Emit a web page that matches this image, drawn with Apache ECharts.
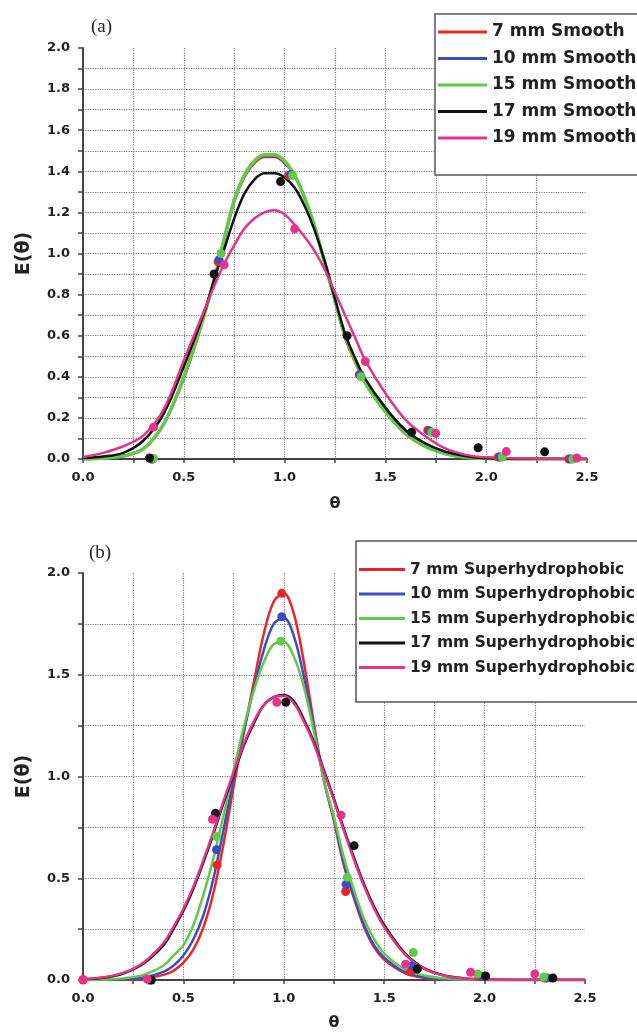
<!DOCTYPE html>
<html>
<head>
<meta charset="utf-8">
<title>E(θ) smooth / superhydrophobic</title>
<script src="https://cdn.jsdelivr.net/npm/echarts@6.0.0/dist/echarts.min.js"></script>
<style>
  html, body { margin: 0; padding: 0; background: #fff; }
  #chart { width: 637px; height: 1032px; }
</style>
</head>
<body>
<div id="chart"></div>
<script>
const thetaA = [0, 0.1, 0.2, 0.3, 0.4, 0.5, 0.6, 0.65, 0.7, 0.75, 0.8, 0.85, 0.9, 0.95, 1.0, 1.05, 1.1, 1.15, 1.2, 1.25, 1.3, 1.35, 1.4, 1.5, 1.6, 1.7, 1.8, 1.9, 2.0, 2.2, 2.5];
const smooth7 = [0, 0.003, 0.014, 0.05, 0.17, 0.39, 0.69, 0.87, 1.06, 1.25, 1.37, 1.44, 1.47, 1.47, 1.44, 1.38, 1.27, 1.12, 0.95, 0.77, 0.59, 0.47, 0.37, 0.23, 0.12, 0.06, 0.024, 0.008, 0.002, 0, 0];
const smooth10 = [0, 0.004, 0.015, 0.05, 0.17, 0.4, 0.7, 0.87, 1.07, 1.26, 1.38, 1.45, 1.475, 1.475, 1.445, 1.38, 1.27, 1.13, 0.95, 0.77, 0.6, 0.48, 0.37, 0.23, 0.125, 0.06, 0.025, 0.008, 0.002, 0, 0];
const smooth15 = [0, 0.004, 0.015, 0.05, 0.17, 0.4, 0.7, 0.87, 1.07, 1.26, 1.38, 1.45, 1.48, 1.48, 1.45, 1.38, 1.27, 1.13, 0.95, 0.77, 0.6, 0.48, 0.37, 0.23, 0.125, 0.06, 0.025, 0.008, 0.002, 0, 0];
const smooth17 = [0.005, 0.012, 0.03, 0.09, 0.22, 0.45, 0.71, 0.87, 1.02, 1.17, 1.29, 1.36, 1.39, 1.39, 1.37, 1.32, 1.23, 1.11, 0.96, 0.78, 0.61, 0.49, 0.39, 0.25, 0.14, 0.075, 0.035, 0.013, 0.004, 0, 0];
const smooth19 = [0.01, 0.03, 0.062, 0.115, 0.24, 0.48, 0.72, 0.84, 0.95, 1.04, 1.12, 1.17, 1.2, 1.21, 1.19, 1.14, 1.08, 1.01, 0.92, 0.81, 0.7, 0.59, 0.48, 0.32, 0.19, 0.11, 0.05, 0.02, 0.008, 0.002, 0];

// (a) measured points [theta, E]
const dotsA7 = [[0.34, 0], [0.67, 0.96], [1.02, 1.38], [1.37, 0.41], [1.71, 0.14], [2.06, 0.01], [2.41, 0]];
const dotsA10 = [[0.345, 0], [0.675, 0.97], [1.03, 1.385], [1.375, 0.41], [1.72, 0.135], [2.07, 0.01], [2.42, 0]];
const dotsA15 = [[0.35, 0.003], [0.685, 1.0], [1.04, 1.38], [1.38, 0.4], [1.73, 0.13], [2.08, 0.01], [2.43, 0]];
const dotsA17 = [[0.33, 0.005], [0.65, 0.9], [0.98, 1.35], [1.31, 0.6], [1.63, 0.13], [1.96, 0.055], [2.29, 0.035]];
const dotsA19 = [[0.35, 0.155], [0.7, 0.945], [1.05, 1.12], [1.4, 0.475], [1.75, 0.125], [2.1, 0.036], [2.45, 0.005]];

// (b) superhydrophobic pipes
const thetaB = [0, 0.1, 0.2, 0.3, 0.4, 0.45, 0.5, 0.55, 0.6, 0.65, 0.7, 0.75, 0.8, 0.85, 0.9, 0.95, 1.0, 1.05, 1.1, 1.15, 1.2, 1.25, 1.3, 1.35, 1.4, 1.45, 1.5, 1.6, 1.7, 1.8, 1.9, 2.0, 2.2, 2.5];
const shp7 = [0, 0, 0.001, 0.006, 0.025, 0.045, 0.085, 0.15, 0.26, 0.43, 0.67, 0.95, 1.21, 1.46, 1.7, 1.86, 1.9, 1.8, 1.56, 1.26, 0.98, 0.78, 0.56, 0.4, 0.26, 0.16, 0.1, 0.035, 0.01, 0.003, 0.001, 0, 0, 0];
const shp10 = [0, 0.001, 0.003, 0.012, 0.04, 0.07, 0.12, 0.2, 0.32, 0.5, 0.74, 0.99, 1.22, 1.43, 1.62, 1.75, 1.78, 1.69, 1.49, 1.24, 0.98, 0.79, 0.57, 0.41, 0.27, 0.17, 0.11, 0.04, 0.013, 0.004, 0.001, 0, 0, 0];
const shp15 = [0, 0.002, 0.008, 0.025, 0.07, 0.12, 0.17, 0.27, 0.42, 0.6, 0.81, 1.03, 1.24, 1.42, 1.56, 1.65, 1.66, 1.59, 1.44, 1.22, 0.98, 0.8, 0.6, 0.44, 0.3, 0.2, 0.13, 0.055, 0.022, 0.008, 0.002, 0, 0, 0];
const shp17 = [0.003, 0.011, 0.032, 0.08, 0.17, 0.25, 0.34, 0.45, 0.58, 0.72, 0.87, 1.01, 1.15, 1.26, 1.35, 1.39, 1.4, 1.37, 1.28, 1.17, 1.03, 0.89, 0.74, 0.6, 0.47, 0.36, 0.27, 0.135, 0.057, 0.022, 0.008, 0.002, 0, 0];
const shp19 = [0.004, 0.013, 0.035, 0.085, 0.18, 0.26, 0.35, 0.46, 0.59, 0.73, 0.88, 1.02, 1.16, 1.27, 1.35, 1.39, 1.395, 1.36, 1.27, 1.16, 1.02, 0.88, 0.73, 0.59, 0.46, 0.35, 0.26, 0.13, 0.055, 0.021, 0.007, 0.002, 0, 0];

const dotsB7 = [[0, 0], [0.34, 0], [0.668, 0.565], [0.99, 1.9], [1.308, 0.435], [1.63, 0.04], [1.97, 0.02], [2.3, 0.01]];
const dotsB10 = [[0.33, 0], [0.665, 0.64], [0.99, 1.785], [1.31, 0.47], [1.64, 0.07], [1.98, 0.02], [2.31, 0.01]];
const dotsB15 = [[0.33, 0], [0.665, 0.705], [0.985, 1.665], [1.316, 0.505], [1.645, 0.135], [1.965, 0.03], [2.295, 0.015]];
const dotsB17 = [[0.34, 0], [0.66, 0.82], [1.01, 1.365], [1.35, 0.66], [1.665, 0.054], [2.005, 0.02], [2.34, 0.01]];
const dotsB19 = [[0, 0.003], [0.32, 0.005], [0.645, 0.79], [0.965, 1.365], [1.285, 0.81], [1.607, 0.078], [1.93, 0.038], [2.25, 0.03]];

const namesA = ['7 mm Smooth', '10 mm Smooth', '15 mm Smooth', '17 mm Smooth', '19 mm Smooth'];
const namesB = ['7 mm Superhydrophobic', '10 mm Superhydrophobic', '15 mm Superhydrophobic', '17 mm Superhydrophobic', '19 mm Superhydrophobic'];
const colors = ['#e8262a', '#3d4dbd', '#62c94a', '#111111', '#e4338a'];

const FONT = "'DejaVu Sans', 'Liberation Sans', sans-serif";

function lineSeries(name, xs, ys, color, width, idx) {
  return {
    type: 'line', name: name, xAxisIndex: idx, yAxisIndex: idx,
    data: xs.map((x, i) => [x, ys[i]]),
    smooth: 0.35, showSymbol: false, symbol: 'none', silent: true,
    lineStyle: { color: color, width: width },
    itemStyle: { color: color },
    z: 2
  };
}

function dotSeries(name, pts, color, idx) {
  return {
    type: 'scatter', name: name, xAxisIndex: idx, yAxisIndex: idx,
    data: pts, symbolSize: 9, silent: true,
    itemStyle: { color: color, opacity: 1 },
    z: 3
  };
}

function isStep(v, step) {
  const k = v / step;
  return Math.abs(k - Math.round(k)) < 1e-6;
}

const gridLine = { color: '#7c7c7c', type: 'dotted', width: 1.2 };

function xAxisFor(idx, gap) {
  return {
    type: 'value', gridIndex: idx, min: 0, max: 2.5, interval: 0.25,
    name: 'θ', nameLocation: 'middle', nameGap: gap,
    nameTextStyle: { fontFamily: FONT, fontWeight: 'bold', fontSize: 16, color: '#222' },
    axisLine: { show: true, onZero: false, lineStyle: { color: '#444', width: 2 } },
    axisTick: { show: true, length: 4, lineStyle: { color: '#444', width: 1.5 } },
    axisLabel: {
      margin: 12, fontFamily: FONT, fontWeight: 'bold', fontSize: 13, color: '#222',
      formatter: v => isStep(v, 0.5) ? v.toFixed(1) : ''
    },
    splitLine: { show: true, showMinLine: false, showMaxLine: false, lineStyle: gridLine }
  };
}

function yAxisFor(idx, step, labelStep) {
  return {
    type: 'value', gridIndex: idx, min: 0, max: 2, interval: step,
    name: 'E(θ)', nameLocation: 'middle', nameGap: 49,
    nameTextStyle: { fontFamily: FONT, fontWeight: 'bold', fontSize: 19, color: '#222' },
    axisLine: { show: true, onZero: false, lineStyle: { color: '#444', width: 2 } },
    axisTick: { show: true, length: 5, lineStyle: { color: '#444', width: 1.5 } },
    axisLabel: {
      margin: 13, fontFamily: FONT, fontWeight: 'bold', fontSize: 13, color: '#222',
      formatter: v => isStep(v, labelStep) ? v.toFixed(1) : ''
    },
    splitLine: { show: true, showMinLine: false, showMaxLine: false, lineStyle: gridLine }
  };
}

function legendFor(names, left, top, iconW, fontSize, lh, gap, pad) {
  return {
    orient: 'vertical', left: left, top: top,
    data: names.map(n => ({ name: n, icon: 'rect' })),
    itemWidth: iconW, itemHeight: 3, itemGap: gap,
    padding: pad, selectedMode: false,
    backgroundColor: '#fff', borderColor: '#555', borderWidth: 1.5, borderRadius: 0,
    textStyle: { fontFamily: FONT, fontWeight: 'bold', fontSize: fontSize, lineHeight: lh, color: '#222' }
  };
}

const seriesA = [smooth7, smooth10, smooth15, smooth17, smooth19];
const dotsA = [dotsA7, dotsA10, dotsA15, dotsA17, dotsA19];
const seriesB = [shp7, shp10, shp15, shp17, shp19];
const dotsB = [dotsB7, dotsB10, dotsB15, dotsB17, dotsB19];
const widthsA = [2.5, 2.5, 3.5, 2.5, 2.5];

let series = [];
namesA.forEach((n, i) => series.push(lineSeries(n, thetaA, seriesA[i], colors[i], widthsA[i], 0)));
namesA.forEach((n, i) => series.push(dotSeries(n, dotsA[i], colors[i], 0)));
namesB.forEach((n, i) => series.push(lineSeries(n, thetaB, seriesB[i], colors[i], 2.5, 1)));
namesB.forEach((n, i) => series.push(dotSeries(n, dotsB[i], colors[i], 1)));

const chart = echarts.init(document.getElementById('chart'), null, { renderer: 'canvas' });
chart.setOption({
  animation: false,
  backgroundColor: '#fff',
  title: [
    { text: '(a)', left: 86, top: 13, textStyle: { fontFamily: "'Liberation Serif', serif", fontWeight: 'normal', fontSize: 19, color: '#222' } },
    { text: '(b)', left: 84, top: 539, textStyle: { fontFamily: "'Liberation Serif', serif", fontWeight: 'normal', fontSize: 19, color: '#222' } }
  ],
  grid: [
    { left: 83, top: 48, width: 504, height: 411 },
    { left: 83, top: 573, width: 502, height: 410 }
  ],
  xAxis: [xAxisFor(0, 37), xAxisFor(1, 35)],
  yAxis: [yAxisFor(0, 0.1, 0.2), yAxisFor(1, 0.25, 0.5)],
  legend: [
    legendFor(namesA, 435, 14, 49, 17, 18, 8.5, [9, 30, 28, 3]),
    legendFor(namesB, 356, 541, 46, 15.5, 17, 7.5, [20, 30, 26, 3])
  ],
  series: series
});
</script>
</body>
</html>
